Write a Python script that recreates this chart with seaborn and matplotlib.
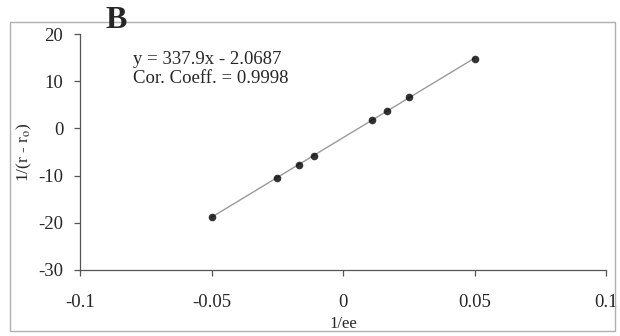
import matplotlib
matplotlib.use('Agg')

import numpy as np
import pandas as pd
import matplotlib.pyplot as plt
import seaborn as sns
from matplotlib.patches import Rectangle

# data
inv_ee = [-0.05, -0.025, -0.0167, -0.0111, 0.0111, 0.0167, 0.025, 0.05]
inv_r = [-18.7, -10.5, -7.7, -5.8, 1.8, 3.7, 6.6, 14.8]
xticks = [-0.1, -0.05, 0, 0.05, 0.1]
xtick_labels = ['-0.1', '-0.05', '0', '0.05', '0.1']
yticks = [-30, -20, -10, 0, 10, 20]

df = pd.DataFrame({'x': inv_ee, 'y': inv_r})

sns.set_style('ticks')
plt.rcParams['font.family'] = ['Liberation Serif', 'DejaVu Serif']
plt.rcParams['mathtext.fontset'] = 'stix'
plt.rcParams['axes.unicode_minus'] = False

fig = plt.figure(figsize=(6.2, 3.36), dpi=100)
ax = fig.add_axes([80 / 620, 1 - 270 / 336, 526 / 620, 236 / 336])

# outer frame
fig.patches.append(Rectangle((10 / 620, 1 - 331 / 336), 605 / 620, 309 / 336,
                             transform=fig.transFigure, fill=False,
                             edgecolor='#b0b0b0', lw=1.0))

sns.regplot(data=df, x='x', y='y', ci=None, ax=ax,
            scatter_kws=dict(color='black', s=30, linewidths=0, zorder=3),
            line_kws=dict(color='#9a9a9a', lw=1.0))

ax.set_xlim(-0.1, 0.1)
ax.set_ylim(-30, 20)
ax.set_xticks(xticks, labels=xtick_labels)
ax.set_yticks(yticks)
ax.tick_params(axis='both', labelsize=13.5, length=4, color='#555555', width=0.9)
ax.tick_params(axis='x', pad=13)
ax.tick_params(axis='y', pad=8)
sns.despine(ax=ax)
for s in ['left', 'bottom']:
    ax.spines[s].set_color('#555555')
    ax.spines[s].set_linewidth(0.9)

ax.set_xlabel('1/ee', fontsize=12, labelpad=4)
ax.set_ylabel(r'1/(r - r$_\mathrm{o}$)', fontsize=12.5, labelpad=3)

ax.text(0.10, 0.85, 'y = 337.9x - 2.0687\nCor. Coeff. = 0.9998',
        transform=ax.transAxes, fontsize=13.5, ha='left', va='center',
        linespacing=1.15)
fig.text(105 / 620, 1 - 21 / 336, 'B', fontsize=23, fontweight='bold',
         ha='left', va='center')

fig.savefig('out.png', dpi=100)
